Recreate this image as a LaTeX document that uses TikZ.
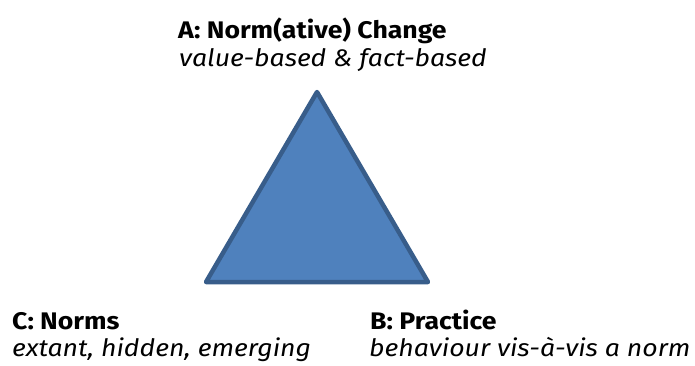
\documentclass[tikz,border=0pt]{standalone}
\usepackage{fontspec}
\setmainfont{Fira Sans}[FakeStretch=1.11]
\definecolor{trifill}{HTML}{4F81BD}
\definecolor{triline}{HTML}{385D8A}
\tikzset{
  head/.style={anchor=base west, inner sep=0pt, font=\fontsize{24}{28}\selectfont\bfseries},
  sub/.style={anchor=base west, inner sep=0pt, font=\fontsize{24}{28}\selectfont\itshape},
  tri/.style={fill=trifill, draw=triline, line width=4.5pt, line join=round}
}
\begin{document}
\begin{tikzpicture}[x=1pt,y=-1pt]
\useasboundingbox (0,0) rectangle (695,365);
\coordinate (A) at (317,92);
\coordinate (C) at (206,282);
\coordinate (B) at (428,282);
\draw[tri] (A) -- (B) -- (C) -- cycle;
\node[head] (ahead) at (178,38) {A: Norm(ative) Change};
\node[sub] (asub) at (179,66) {value-based \& fact-based};
\node[head] (chead) at (12,329) {C: Norms};
\node[sub] (csub) at (12,356) {extant, hidden, emerging};
\node[head] (bhead) at (370,329) {B: Practice};
\node[sub] (bsub) at (369,356) {behaviour vis-à-vis a norm};
\end{tikzpicture}
\end{document}
